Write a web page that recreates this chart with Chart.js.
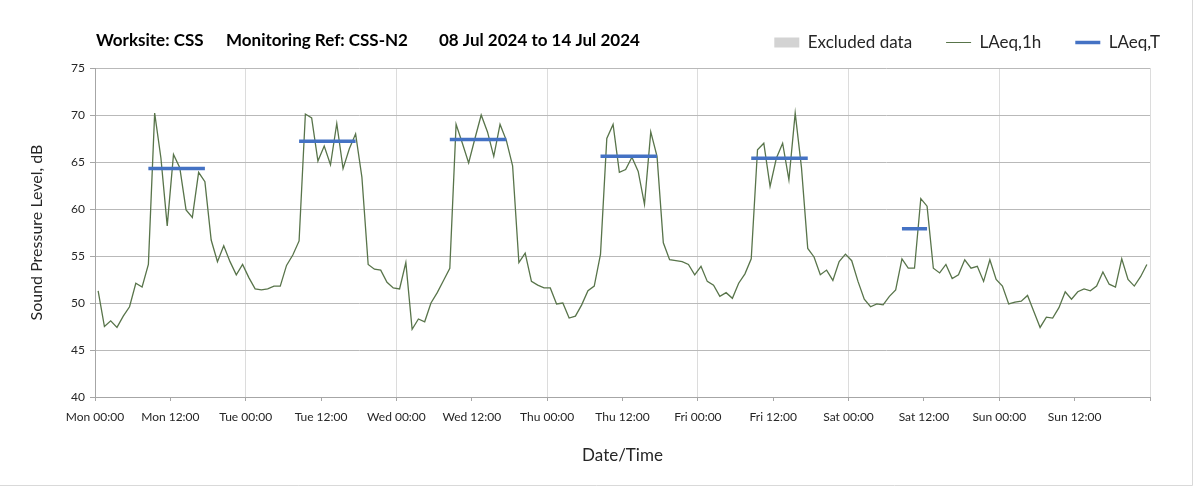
<!DOCTYPE html>
<html>
<head>
<meta charset="utf-8">
<script src="https://cdn.jsdelivr.net/npm/chart.js@4.4.1/dist/chart.umd.min.js"></script>
<style>
html,body{margin:0;padding:0;background:#fff;}
#wrap{position:relative;width:1203px;height:489px;}
canvas{display:block;}
</style>
</head>
<body>
<div id="wrap"><canvas id="c" width="1203" height="489"></canvas></div>
<script>
// ---- data ----
const tickLabels = ['Mon 00:00','Mon 12:00','Tue 00:00','Tue 12:00','Wed 00:00','Wed 12:00','Thu 00:00','Thu 12:00','Fri 00:00','Fri 12:00','Sat 00:00','Sat 12:00','Sun 00:00','Sun 12:00',''];
const titleParts = ['Worksite: CSS','Monitoring Ref: CSS-N2','08 Jul 2024 to 14 Jul 2024'];
const seriesNames = ['Excluded data','LAeq,1h','LAeq,T'];
// hourly LAeq,1h, Mon 00:00 .. Sun 23:00
const laeqMon = [51.3,47.5,48.1,47.4,48.6,49.6,52.1,51.7,54.1,70.2,65.4,58.2,65.8,64.4,59.9,59.1,63.9,62.9,56.7,54.4,56.1,54.4,53.0,54.1];
const laeqTue = [52.7,51.5,51.4,51.5,51.8,51.8,54.0,55.1,56.6,70.1,69.7,65.1,66.7,64.7,69.1,64.3,66.4,68.0,63.4,54.1,53.6,53.5,52.2,51.6];
const laeqWed = [51.5,54.3,47.2,48.3,48.0,50.0,51.1,52.4,53.7,69.0,67.0,64.9,67.5,70.0,68.2,65.6,69.0,67.3,64.6,54.3,55.3,52.3,51.9,51.6];
const laeqThu = [51.6,49.9,50.0,48.4,48.6,49.8,51.3,51.8,55.2,67.5,69.0,63.9,64.2,65.5,64.0,60.5,68.2,65.6,56.4,54.6,54.5,54.4,54.1,53.0];
const laeqFri = [53.9,52.3,51.9,50.7,51.1,50.5,52.1,53.1,54.7,66.3,67.0,62.4,65.4,67.0,63.1,70.2,64.4,55.8,54.9,53.0,53.5,52.4,54.4,55.2];
const laeqSat = [54.5,52.3,50.4,49.6,49.9,49.8,50.7,51.4,54.7,53.7,53.7,61.1,60.3,53.7,53.2,54.1,52.6,53.0,54.6,53.7,53.9,52.3,54.6,52.5];
const laeqSun = [51.8,49.9,50.1,50.2,50.8,49.1,47.4,48.5,48.4,49.5,51.2,50.4,51.2,51.5,51.3,51.8,53.3,52.0,51.7,54.7,52.5,51.8,52.8,54.1];
const laeq1h = [].concat(laeqMon, laeqTue, laeqWed, laeqThu, laeqFri, laeqSat, laeqSun);
// LAeq,T periods (first and last hour index of each period) and values
const ltStartHour = [8, 32, 56, 80, 104, 128];
const ltEndHour   = [17, 41, 65, 89, 113, 132];
const ltValue     = [64.3, 67.2, 67.4, 65.6, 65.4, 57.9];

// ---- build library data ----
const hourlyPoints = laeq1h.map((v, i) => ({x: i + 0.5, y: v}));
const ltPoints = [];
ltValue.forEach((v, k) => {
  ltPoints.push({x: ltStartHour[k] + 0.5, y: v});
  ltPoints.push({x: ltEndHour[k] + 0.5, y: v});
  ltPoints.push({x: ltEndHour[k] + 1, y: null});
});

const GREEN = '#58744a';
const BLUE = '#4472c4';
const EXCL = '#d3d3d3';
const TXT = '#262626';
const FONT = 'Lato, "Noto Sans", sans-serif';

const legendFitPlugin = {
  id: 'legendFit',
  beforeInit(chart) {
    const orig = chart.legend.fit;
    chart.legend.fit = function () { orig.call(this); this.height = 68; };
  }
};

const titlePlugin = {
  id: 'titleText',
  afterDraw(chart) {
    const ctx = chart.ctx;
    const xs = [96, 226, 439];
    ctx.save();
    ctx.font = 'bold 17px ' + FONT;
    ctx.fillStyle = '#000';
    ctx.textBaseline = 'alphabetic';
    titleParts.forEach((t, i) => ctx.fillText(t, xs[i], 46));
    // light frame on right and bottom edges
    ctx.strokeStyle = '#d9d9d9';
    ctx.lineWidth = 1;
    ctx.beginPath();
    ctx.moveTo(1192.5, 0);
    ctx.lineTo(1192.5, 485.5);
    ctx.lineTo(0, 485.5);
    ctx.stroke();
    ctx.restore();
  }
};

new Chart(document.getElementById('c'), {
  type: 'line',
  data: {
    datasets: [
      {label: seriesNames[0], data: [], borderColor: EXCL, backgroundColor: EXCL, pointRadius: 0},
      {label: seriesNames[1], data: hourlyPoints, borderColor: GREEN, borderWidth: 1.3, pointRadius: 0, tension: 0, order: 2},
      {label: seriesNames[2], data: ltPoints, borderColor: BLUE, borderWidth: 3.5, pointRadius: 0, spanGaps: false, borderCapStyle: 'butt', order: 1}
    ]
  },
  options: {
    responsive: false,
    animation: false,
    devicePixelRatio: 1,
    layout: {padding: {left: 0, right: 9, top: 0, bottom: 0}},
    plugins: {
      title: {display: false},
      tooltip: {enabled: false},
      legend: {
        display: true,
        position: 'top',
        align: 'end',
        labels: {
          usePointStyle: true,
          pointStyleWidth: 25,
          boxHeight: 10,
          padding: 34,
          color: TXT,
          font: {family: FONT, size: 17},
          generateLabels: (chart) => {
            const styles = [
              {pointStyle: 'rect', fillStyle: EXCL, strokeStyle: 'rgba(0,0,0,0)', lineWidth: 0},
              {pointStyle: 'line', fillStyle: GREEN, strokeStyle: GREEN, lineWidth: 1},
              {pointStyle: 'line', fillStyle: BLUE, strokeStyle: BLUE, lineWidth: 3.5}
            ];
            return chart.data.datasets.map((ds, i) => Object.assign({
              text: ds.label, datasetIndex: i, hidden: false, fontColor: TXT
            }, styles[i]));
          }
        }
      }
    },
    scales: {
      x: {
        type: 'linear',
        min: 0, max: 168,
        afterFit(s) { s.height = 92; },
        ticks: {
          stepSize: 12, autoSkip: false, maxRotation: 0, minRotation: 0,
          padding: 9, color: TXT, font: {family: FONT, size: 12},
          callback: (v) => { const k = Math.round(v / 12); return tickLabels[k] !== undefined ? tickLabels[k] : ''; }
        },
        grid: {
          color: (c) => (c.tick && c.tick.value > 0 && c.tick.value % 24 === 0) ? '#dcdcdc' : 'rgba(0,0,0,0)',
          tickColor: '#a6a6a6', tickLength: 4, lineWidth: 1
        },
        border: {display: true, color: '#a6a6a6', width: 1},
        title: {display: true, text: 'Date/Time', color: TXT, font: {family: FONT, size: 17}, padding: {top: 0, bottom: 23}}
      },
      y: {
        type: 'linear',
        position: 'left',
        min: 40, max: 75,
        afterFit(s) { s.width = 95; },
        ticks: {stepSize: 5, padding: 5, color: TXT, font: {family: FONT, size: 12}},
        grid: {color: '#b9b9b9', tickColor: '#a6a6a6', tickLength: 5, lineWidth: 1},
        border: {display: true, color: '#a6a6a6', width: 1},
        title: {display: true, text: 'Sound Pressure Level, dB', color: TXT, font: {family: FONT, size: 16}, padding: {top: 27, bottom: 0}}
      },
      y2: {
        type: 'linear',
        position: 'right',
        display: true,
        afterFit(s) { s.width = 44; },
        grid: {display: false, drawOnChartArea: false},
        ticks: {display: false},
        border: {display: false}
      }
    }
  },
  plugins: [legendFitPlugin, titlePlugin]
});
</script>
</body>
</html>
